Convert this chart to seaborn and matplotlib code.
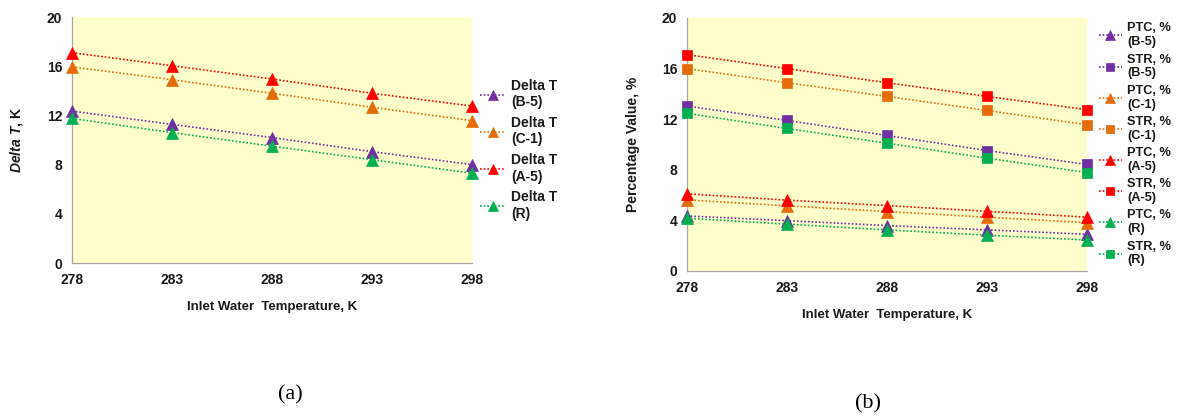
import matplotlib
matplotlib.use("Agg")
import matplotlib.pyplot as plt
import seaborn as sns
import numpy as np

# ---------------- data ----------------
inlet_temp = [278, 283, 288, 293, 298]

# panel (a): Delta T, K
dT_B5 = [12.35, 11.27, 10.2, 9.05, 8.0]
dT_C1 = [15.95, 14.9, 13.8, 12.66, 11.57]
dT_A5 = [17.1, 16.04, 14.96, 13.8, 12.76]
dT_R = [11.75, 10.6, 9.5, 8.4, 7.3]

# panel (b): percentage values
ptc_B5 = [4.35, 3.98, 3.59, 3.25, 2.9]
str_B5 = [13.04, 11.9, 10.71, 9.52, 8.42]
ptc_C1 = [5.62, 5.15, 4.7, 4.25, 3.82]
str_C1 = [16.0, 14.88, 13.8, 12.69, 11.56]
ptc_A5 = [6.1, 5.6, 5.17, 4.72, 4.25]
str_A5 = [17.1, 16.0, 14.88, 13.8, 12.75]
ptc_R = [4.17, 3.7, 3.25, 2.83, 2.45]
str_R = [12.46, 11.27, 10.1, 8.92, 7.78]

labels_a = ["Delta T\n(B-5)", "Delta T\n(C-1)", "Delta T\n(A-5)", "Delta T\n(R)"]
labels_b = ["PTC, %\n(B-5)", "STR, %\n(B-5)", "PTC, %\n(C-1)", "STR, %\n(C-1)",
            "PTC, %\n(A-5)", "STR, %\n(A-5)", "PTC, %\n(R)", "STR, %\n(R)"]
yticks = [0, 4, 8, 12, 16, 20]

# ---------------- style ----------------
sns.set_theme(style="white")
plt.rcParams['font.family'] = ['Liberation Sans', 'DejaVu Sans']
plt.rcParams['mathtext.fontset'] = 'custom'
plt.rcParams['mathtext.it'] = 'Liberation Sans:italic:bold'
plt.rcParams['mathtext.rm'] = 'Liberation Sans:bold'

C_PURPLE = "#7030A0"
C_ORANGE = "#E46C0A"
C_RED = "#FF0000"
C_GREEN = "#00B050"
BG = "#FFFFCC"
SPINE = "#A6A6A6"
TXT = "#1a1a1a"

fig = plt.figure(figsize=(11.79, 4.18), dpi=100)
ax_a = fig.add_axes([0.0611, 0.3708, 0.3393, 0.5885])
ax_b = fig.add_axes([0.5827, 0.3517, 0.3393, 0.6053])


def style_axes(ax):
    ax.set_facecolor(BG)
    ax.set_xlim(278, 298)
    ax.set_ylim(0, 20)
    ax.set_xticks(inlet_temp)
    ax.set_yticks(yticks)
    for s in ["top", "right"]:
        ax.spines[s].set_visible(False)
    for s in ["left", "bottom"]:
        ax.spines[s].set_color(SPINE)
        ax.spines[s].set_linewidth(0.9)
    ax.tick_params(axis="both", which="major", direction="out", length=4,
                   width=0.8, color=SPINE, labelsize=10, labelcolor=TXT, pad=3)
    for lab in ax.get_xticklabels() + ax.get_yticklabels():
        lab.set_fontweight("bold")
    ax.set_xlabel("Inlet Water  Temperature, K", fontsize=9.5, fontweight="bold",
                  color=TXT, labelpad=10)


def draw(ax, y, color, marker, label, ms):
    sns.lineplot(x=inlet_temp, y=y, ax=ax, color=color, marker=marker,
                 linestyle=(0, (1, 1.2)), linewidth=1.2, markersize=ms,
                 markeredgecolor=color, markeredgewidth=0.5, label=label,
                 clip_on=False, zorder=3)


# panel (a)
series_a = [dT_B5, dT_C1, dT_A5, dT_R]
colors_a = [C_PURPLE, C_ORANGE, C_RED, C_GREEN]
for y, c, l in zip(series_a, colors_a, labels_a):
    draw(ax_a, y, c, "^", l, 8)
style_axes(ax_a)
ax_a.set_ylabel(r"$\mathit{Delta\ T}$, K", fontsize=10, fontweight="bold",
                color=TXT, labelpad=16)
leg_a = ax_a.legend(loc="center left", bbox_to_anchor=(1.0, 0.46), frameon=False,
                    prop={"weight": "bold", "size": 10}, labelspacing=0.5,
                    handlelength=1.8, handletextpad=0.4, markerscale=0.9,
                    borderaxespad=0.2)
for t in leg_a.get_texts():
    t.set_color(TXT)

# panel (b)
series_b = [ptc_B5, str_B5, ptc_C1, str_C1, ptc_A5, str_A5, ptc_R, str_R]
colors_b = [C_PURPLE, C_PURPLE, C_ORANGE, C_ORANGE, C_RED, C_RED, C_GREEN, C_GREEN]
markers_b = ["^", "s"] * 4
sizes_b = [8, 6.5] * 4
for y, c, m, l, s in zip(series_b, colors_b, markers_b, labels_b, sizes_b):
    draw(ax_b, y, c, m, l, s)
style_axes(ax_b)
ax_b.set_ylabel("Percentage Value, %", fontsize=10, fontweight="bold",
                color=TXT, labelpad=16)
leg_b = ax_b.legend(loc="center left", bbox_to_anchor=(1.01, 0.5), frameon=False,
                    prop={"weight": "bold", "size": 9.2}, labelspacing=0.42,
                    handlelength=1.8, handletextpad=0.45, markerscale=0.85,
                    borderaxespad=0.2)
for t in leg_b.get_texts():
    t.set_color(TXT)

# captions
fig.text(290 / 1179, 1 - 395 / 418, "(a)", ha="center", va="center",
         fontsize=16, family="Liberation Serif", color="black")
fig.text(868 / 1179, 1 - 404 / 418, "(b)", ha="center", va="center",
         fontsize=16, family="Liberation Serif", color="black")

fig.savefig("out.png", dpi=100, facecolor="white")
